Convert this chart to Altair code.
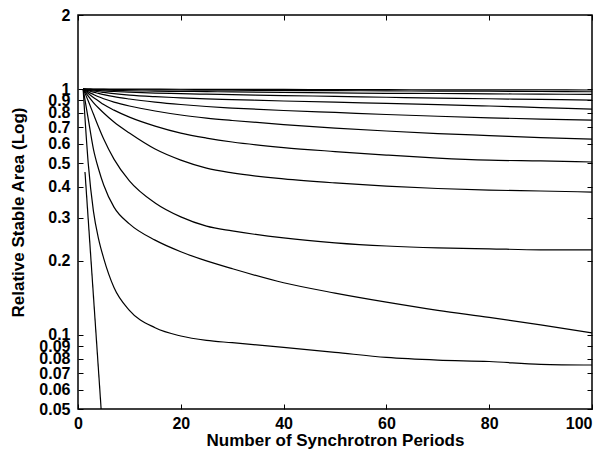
import altair as alt
import pandas as pd

# x positions (number of synchrotron periods) at which the curves were read
x_periods = [1, 2, 3, 4, 5, 7, 10, 15, 20, 25, 30, 40, 50, 60, 70, 80, 90, 100]

# relative stable area, one list per curve (top to bottom)
curve_01 = [1.0, 1.0, 1.0, 1.0, 1.0, 1.0, 1.0, 1.0, 0.998, 0.997, 0.997, 0.996, 0.995, 0.994, 0.993, 0.993, 0.992, 0.991]
curve_02 = [1.0, 0.999, 0.998, 0.997, 0.996, 0.995, 0.994, 0.993, 0.991, 0.990, 0.989, 0.987, 0.985, 0.983, 0.981, 0.980, 0.977, 0.975]
curve_03 = [1.0, 0.997, 0.994, 0.993, 0.991, 0.988, 0.984, 0.981, 0.978, 0.976, 0.973, 0.969, 0.965, 0.961, 0.959, 0.956, 0.953, 0.952]
curve_04 = [1.0, 0.994, 0.990, 0.986, 0.982, 0.977, 0.971, 0.963, 0.958, 0.953, 0.949, 0.941, 0.934, 0.926, 0.919, 0.913, 0.907, 0.902]
curve_05 = [1.0, 0.991, 0.982, 0.975, 0.969, 0.958, 0.945, 0.931, 0.921, 0.912, 0.906, 0.894, 0.884, 0.874, 0.864, 0.853, 0.841, 0.829]
curve_06 = [1.0, 0.985, 0.971, 0.960, 0.949, 0.931, 0.911, 0.885, 0.865, 0.849, 0.837, 0.818, 0.803, 0.788, 0.775, 0.764, 0.755, 0.748]
curve_07 = [1.0, 0.974, 0.951, 0.930, 0.913, 0.885, 0.853, 0.814, 0.784, 0.762, 0.745, 0.717, 0.694, 0.675, 0.659, 0.647, 0.635, 0.626]
curve_08 = [1.0, 0.959, 0.924, 0.894, 0.865, 0.821, 0.769, 0.707, 0.662, 0.632, 0.609, 0.578, 0.557, 0.539, 0.524, 0.514, 0.510, 0.505]
curve_09 = [1.0, 0.936, 0.881, 0.837, 0.799, 0.734, 0.662, 0.570, 0.514, 0.477, 0.456, 0.431, 0.415, 0.403, 0.394, 0.388, 0.385, 0.381]
curve_10 = [1.0, 0.894, 0.791, 0.701, 0.626, 0.519, 0.423, 0.344, 0.302, 0.277, 0.265, 0.248, 0.237, 0.230, 0.226, 0.224, 0.222, 0.222]
curve_11 = [1.0, 0.755, 0.570, 0.473, 0.407, 0.331, 0.283, 0.243, 0.218, 0.200, 0.186, 0.163, 0.148, 0.136, 0.126, 0.118, 0.110, 0.102]
curve_12 = [1.0, 0.496, 0.319, 0.246, 0.205, 0.156, 0.126, 0.107, 0.099, 0.095, 0.093, 0.089, 0.085, 0.081, 0.079, 0.078, 0.076, 0.0755]

# the steep curve that leaves the plot at the bottom
steep_x = [1.36, 4.5]
steep_y = [0.46, 0.05]

x_ticks = [0, 20, 40, 60, 80, 100]
y_ticks = [0.05, 0.06, 0.07, 0.08, 0.09, 0.1, 0.2, 0.3, 0.4, 0.5, 0.6, 0.7, 0.8, 0.9, 1, 2]

curves = [curve_01, curve_02, curve_03, curve_04, curve_05, curve_06,
          curve_07, curve_08, curve_09, curve_10, curve_11, curve_12]
rows = []
for i, c in enumerate(curves):
    for xv, yv in zip(x_periods, c):
        rows.append({"curve": f"c{i+1:02d}", "x": xv, "y": yv})
for xv, yv in zip(steep_x, steep_y):
    rows.append({"curve": "c13", "x": xv, "y": yv})
df = pd.DataFrame(rows)

x_scale = alt.Scale(domain=[0, 100], nice=False, zero=False)
y_scale = alt.Scale(type="log", domain=[0.05, 2], nice=False)

tick_len = 5

lines = alt.Chart(df).mark_line(color="black", strokeWidth=1.2, clip=True,
                                interpolate="monotone").encode(
    x=alt.X("x:Q", scale=x_scale,
            axis=alt.Axis(orient="bottom", values=x_ticks, format="d",
                          title="Number of Synchrotron Periods",
                          offset=-tick_len, tickSize=tick_len, domain=False,
                          labelPadding=6, titlePadding=1, labelFlush=False,
                          labelAlign={"expr": "datum.value == 100 ? 'right' : 'center'"},
                          titleFontSize=17)),
    y=alt.Y("y:Q", scale=y_scale,
            axis=alt.Axis(orient="left", values=y_ticks, format="~g",
                          title="Relative Stable Area (Log)",
                          offset=-tick_len, tickSize=tick_len, domain=False,
                          labelPadding=8, titlePadding=11, labelOverlap=False,
                          labelFlush=False, titleFontSize=17)),
    detail="curve:N",
)

mirror = alt.Chart(df).mark_line(strokeOpacity=0, clip=True).encode(
    x=alt.X("x:Q", scale=x_scale,
            axis=alt.Axis(orient="top", values=x_ticks, labels=False, title="",
                          offset=-tick_len, tickSize=tick_len, domain=False)),
    y=alt.Y("y:Q", scale=y_scale,
            axis=alt.Axis(orient="right", values=y_ticks, labels=False, title="",
                          offset=-tick_len, tickSize=tick_len, domain=False)),
    detail="curve:N",
)

chart = alt.layer(lines, mirror).resolve_axis(
    x="independent", y="independent"
).properties(
    width=514, height=394,
    autosize=alt.AutoSizeParams(type="none"),
    padding={"left": 70, "top": 7, "right": 3, "bottom": 40},
).configure_view(
    stroke="black", strokeWidth=1.5
).configure_axis(
    grid=False, tickColor="black", tickWidth=1,
    labelFont="Liberation Sans", labelFontWeight="bold", labelFontSize=16,
    labelColor="black",
    titleFont="Liberation Sans", titleFontWeight="bold",
    titleColor="black",
)

chart.save("out.html", embed_options={"renderer": "svg", "actions": False})
